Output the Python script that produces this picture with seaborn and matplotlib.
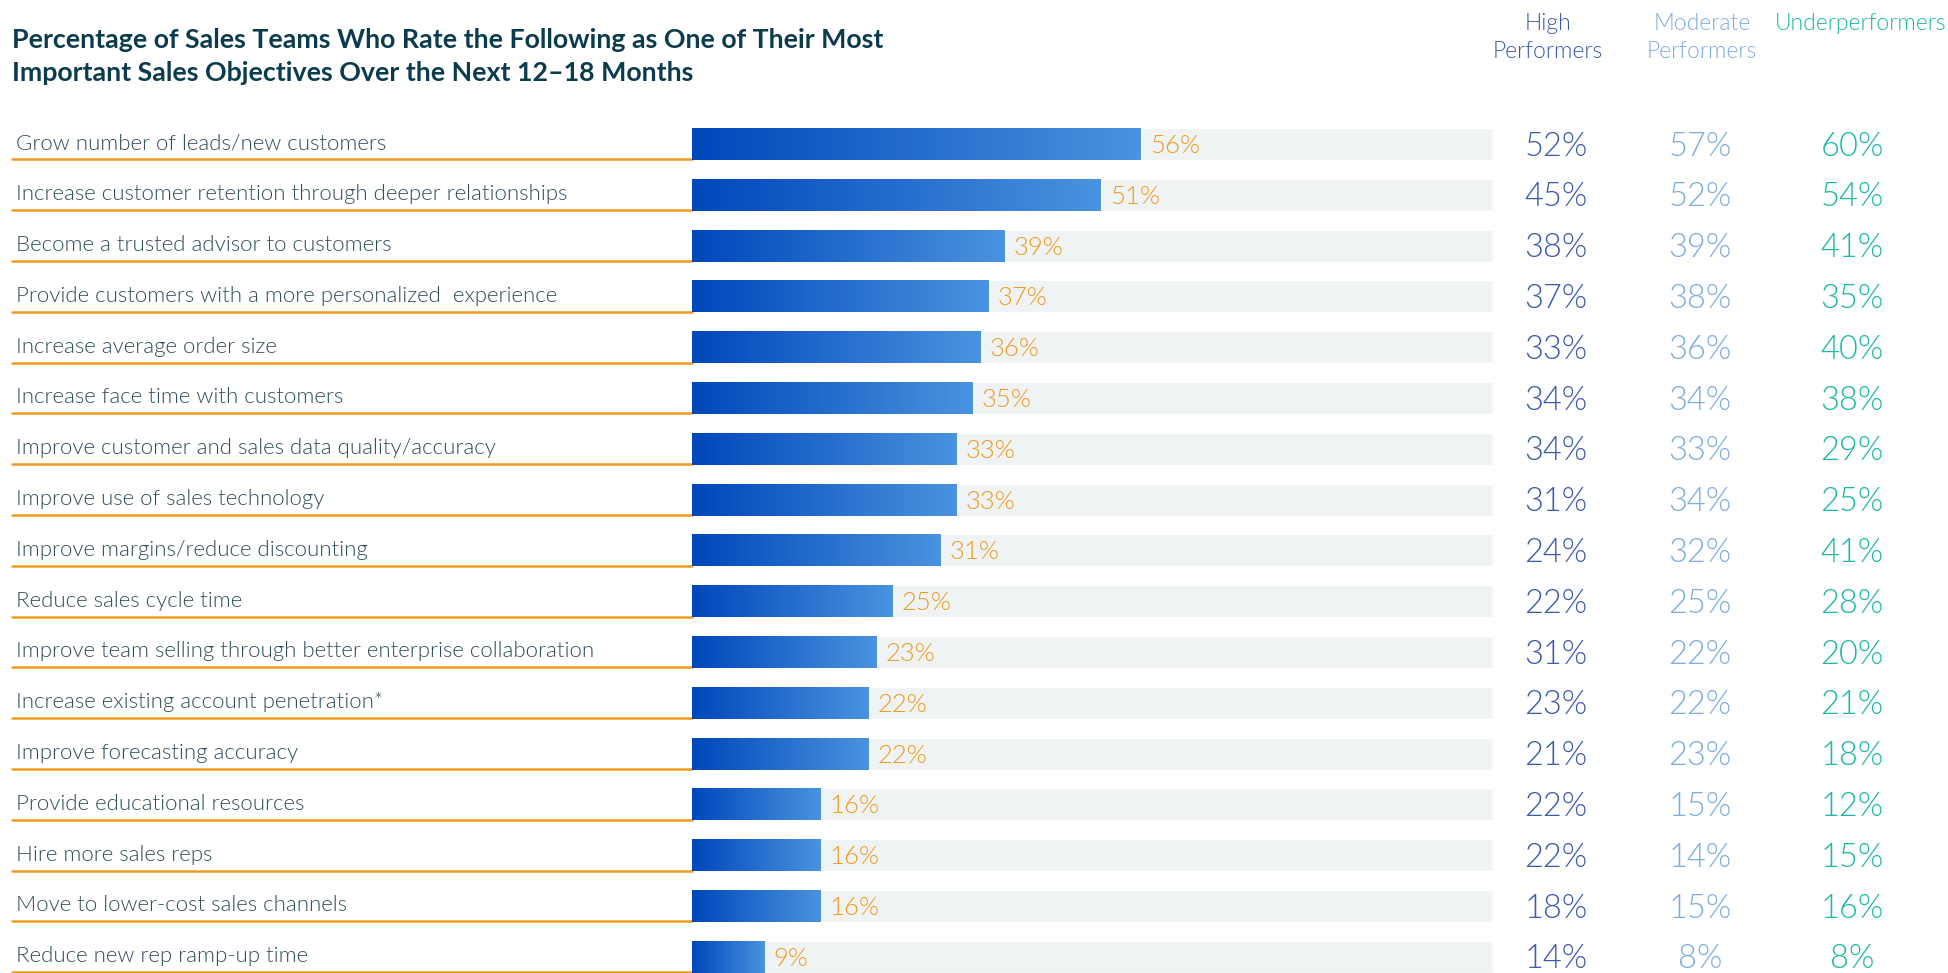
import numpy as np
import matplotlib
matplotlib.use("Agg")
import matplotlib.pyplot as plt
import matplotlib.transforms as mtransforms
from matplotlib.colors import LinearSegmentedColormap
import seaborn as sns
import pandas as pd

# --- data ---
objectives = [
    "Grow number of leads/new customers",
    "Increase customer retention through deeper relationships",
    "Become a trusted advisor to customers",
    "Provide customers with a more personalized  experience",
    "Increase average order size",
    "Increase face time with customers",
    "Improve customer and sales data quality/accuracy",
    "Improve use of sales technology",
    "Improve margins/reduce discounting",
    "Reduce sales cycle time",
    "Improve team selling through better enterprise collaboration",
    "Increase existing account penetration*",
    "Improve forecasting accuracy",
    "Provide educational resources",
    "Hire more sales reps",
    "Move to lower-cost sales channels",
    "Reduce new rep ramp-up time",
]
overall = [56, 51, 39, 37, 36, 35, 33, 33, 31, 25, 23, 22, 22, 16, 16, 16, 9]
high = [52, 45, 38, 37, 33, 34, 34, 31, 24, 22, 31, 23, 21, 22, 22, 18, 14]
moderate = [57, 52, 39, 38, 36, 34, 33, 34, 32, 25, 22, 22, 23, 15, 14, 15, 8]
under = [60, 54, 41, 35, 40, 38, 29, 25, 41, 28, 20, 21, 18, 12, 15, 16, 8]
group_names = [["High", "Performers"], ["Moderate", "Performers"], ["Underperformers"]]

title_lines = ["Percentage of Sales Teams Who Rate the Following as One of Their Most",
               "Important Sales Objectives Over the Next 12\u201318 Months"]

# --- colours ---
TITLE_C = "#0b3c4d"
LABEL_C = "#2e4d58"
ORANGE = "#f09a20"
BG_C = "#eff3f4"
GROUP_C = ["#3a5aad", "#7dacdf", "#1bb8a6"]
grad = LinearSegmentedColormap.from_list("bar", ["#0047bb", "#4a93de"])

sns.set_theme(style="white")
plt.rcParams['font.family'] = ['Lato', 'DejaVu Sans']
LIGHT = 300

W, H = 1949, 973
fig = plt.figure(figsize=(W / 100, H / 100), dpi=100)
x0_px, x1_px = 692, 1493
ax = fig.add_axes([x0_px / W, 0, (x1_px - x0_px) / W, 1])

df = pd.DataFrame({"objective": objectives, "overall": overall,
                   "full": [100] * len(objectives)})

bar_h = 0.63
sns.barplot(data=df, x="full", y="objective", color=BG_C, width=bar_h,
            saturation=1, ax=ax)
n = len(objectives)
sns.barplot(data=df, x="overall", y="objective", color="#0047bb", width=bar_h,
            saturation=1, ax=ax)

# gradient fill on each bar
g = np.linspace(0, 1, 256).reshape(1, -1)
for p in ax.patches[n:]:
    bx, by = p.get_x(), p.get_y()
    bw, bh = p.get_width(), p.get_height()
    im = ax.imshow(g, cmap=grad, aspect="auto", interpolation="bicubic",
                   extent=(bx, bx + bw, by + bh, by), zorder=3)
    im.set_clip_path(p)

# row 0 centre at 144px, spacing 50.8px
row0, step = 144, 50.8
ax.set_xlim(0, 100)
ax.set_ylim((H - row0) / step, -row0 / step)
ax.axis("off")

tr = mtransforms.blended_transform_factory(fig.transFigure, ax.transData)

for i, (lab, v) in enumerate(zip(objectives, overall)):
    ax.text(16 / W, i - 0.01, lab, transform=tr, ha="left", va="center",
            fontsize=16, color=LABEL_C, fontweight=LIGHT)
    ax.plot([12 / W, x0_px / W], [i + bar_h / 2 - 0.01] * 2, transform=tr,
            color=ORANGE, lw=1.8, clip_on=False)
    ax.text(v + 1.2, i + 0.04, f"{v}%", ha="left", va="center",
            fontsize=18.5, color=ORANGE, fontweight=LIGHT)

cols_x = [1556, 1700, 1852]
for cx, vals, c in zip(cols_x, [high, moderate, under], GROUP_C):
    for i, v in enumerate(vals):
        ax.text(cx / W, i + 0.05, f"{v}%", transform=tr, ha="center",
                va="center", fontsize=23.5, color=c, fontweight=LIGHT)

head_x = [1548, 1702, 1861]
for hx, lines, c in zip(head_x, group_names, GROUP_C):
    for k, line in enumerate(lines):
        fig.text(hx / W, 1 - (23 + 28 * k) / H, line, ha="center", va="center",
                 fontsize=16.5, color=c, fontweight=LIGHT)

for k, line in enumerate(title_lines):
    fig.text(12 / W, 1 - (39.5 + 33.6 * k) / H, line, ha="left", va="center",
             fontsize=19.3, fontweight="bold", color=TITLE_C)

fig.savefig("out.png", dpi=100)
